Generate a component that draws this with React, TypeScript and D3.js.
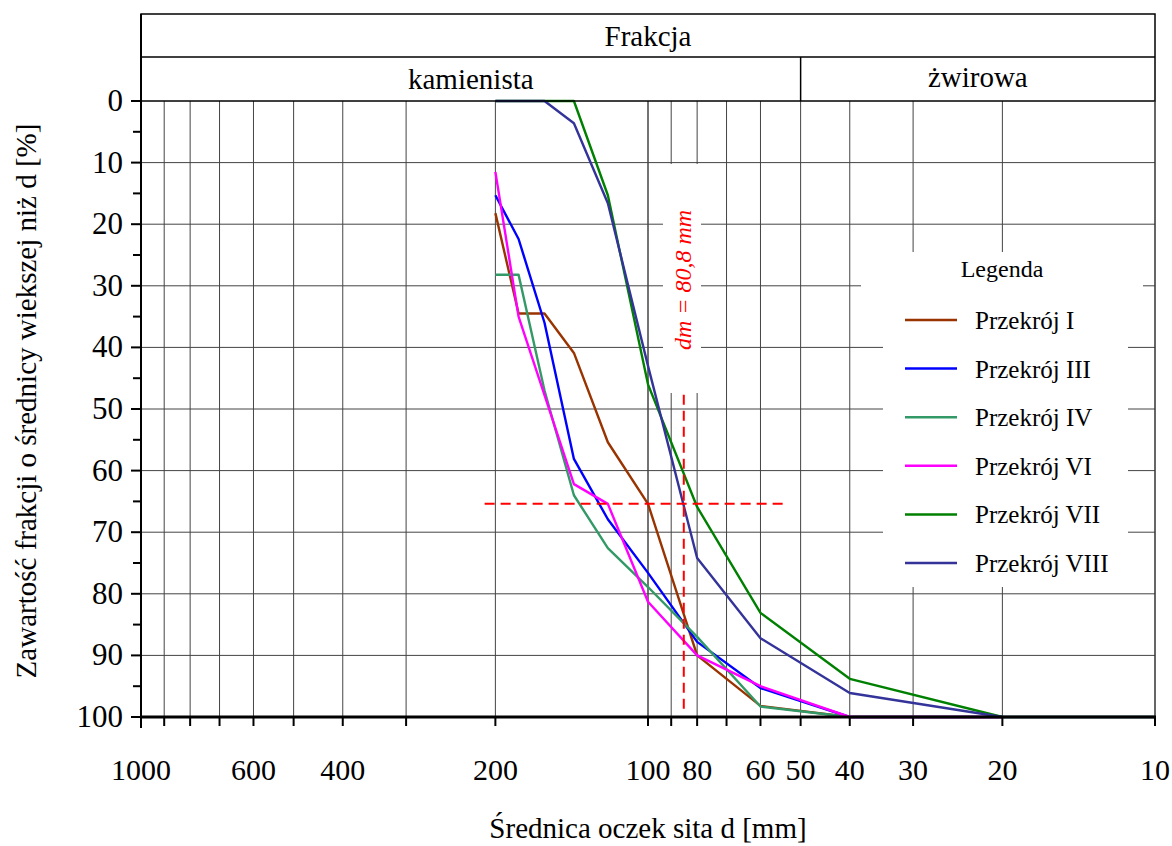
import React from "react";
import * as d3 from "d3";

// ---- data ----
const seriesNames = ["Przekrój I", "Przekrój III", "Przekrój IV", "Przekrój VI", "Przekrój VII", "Przekrój VIII"];
const seriesColors = ["#993300", "#0000ff", "#339966", "#ff00ff", "#008000", "#333399"];

const sieveI = [200, 180, 160, 140, 120, 100, 80, 60, 40, 20];
const valuesI = [18.2, 34.5, 34.5, 40.9, 55.4, 65.4, 90, 98.2, 100, 100];

const sieveIII = [200, 180, 160, 140, 120, 100, 80, 60, 40, 20];
const valuesIII = [15.3, 22.4, 36, 58.1, 67.9, 76.6, 87.8, 95.3, 100, 100];

const sieveIV = [200, 180, 160, 140, 120, 100, 80, 60, 40, 20];
const valuesIV = [28.2, 28.2, 47, 64, 72.6, 78.9, 87, 98.3, 100, 100];

const sieveVI = [200, 180, 140, 120, 100, 80, 60, 40, 20];
const valuesVI = [11.5, 35, 62.2, 65.4, 81.3, 90, 95, 100, 100];

const sieveVII = [200, 160, 140, 120, 100, 80, 60, 40, 20, 10];
const valuesVII = [0, 0, 0, 15.3, 46, 65.9, 83.1, 93.8, 100, 100];

const sieveVIII = [200, 160, 140, 120, 100, 80, 60, 40, 20, 10];
const valuesVIII = [0, 0, 3.6, 16.6, 43, 74.2, 87.2, 96.1, 100, 100];

const gridX = [1000, 900, 800, 700, 600, 500, 400, 300, 200, 100, 90, 80, 70, 60, 50, 40, 30, 20, 10];
const labelX = [1000, 600, 400, 200, 100, 80, 60, 50, 40, 30, 20, 10];
const majorY = [0, 10, 20, 30, 40, 50, 60, 70, 80, 90, 100];
const minorY = [5, 15, 25, 35, 45, 55, 65, 75, 85, 95];

const fractionSplit = 50; // boundary kamienista / żwirowa
const dmLabel = "dm = 80,8 mm";
const dmD = 85;          // position of vertical dashed marker
const dmPct = 65.4;      // horizontal dashed marker
const dmHRange = [210, 54];
const dmVRange = [47.7, 98.9];

const allSieves = [sieveI, sieveIII, sieveIV, sieveVI, sieveVII, sieveVIII];
const allValues = [valuesI, valuesIII, valuesIV, valuesVI, valuesVII, valuesVIII];

const W = 1172, H = 846;
const L = 141, R = 1155, T = 101, B = 717;
const headTop = 14, headMid = 57;
const FONT = "Liberation Serif, Times New Roman, serif";

export default function App() {
  const x = d3.scaleLog().domain([1000, 10]).range([L, R]);
  const y = d3.scaleLinear().domain([0, 100]).range([T, B]);
  const line = d3.line<[number, number]>().x(p => x(p[0])).y(p => y(p[1]));

  const legX = 905, legTextX = 975, legY0 = 320, legStep = 48.6;

  return (
    <svg width={W} height={H} style={{ position: "absolute", left: 0, top: 0, background: "#fff", fontFamily: FONT }}>
      <rect x={0} y={0} width={W} height={H} fill="#fff" />
      {/* grid */}
      {majorY.filter(v => v > 0 && v < 100).map(v => (
        <line key={"gy" + v} x1={L} x2={R} y1={y(v)} y2={y(v)} stroke="#444" strokeWidth={1} />
      ))}
      {gridX.filter(v => v !== 1000 && v !== 10).map(v => (
        <line key={"gx" + v} x1={x(v)} x2={x(v)} y1={T} y2={B} stroke="#444" strokeWidth={v === 100 ? 1.5 : 1} />
      ))}
      {/* white boxes covering grid */}
      <rect x={663} y={164} width={38} height={229} fill="#fff" />
      <rect x={861} y={252} width={282} height={50} fill="#fff" />
      <rect x={883} y={300} width={245} height={287} fill="#fff" />

      {/* series */}
      {allSieves.map((s, i) => (
        <path key={"s" + i} d={line(s.map((d, j) => [d, allValues[i][j]]) as [number, number][]) || ""}
          fill="none" stroke={seriesColors[i]} strokeWidth={2.4} strokeLinejoin="round" />
      ))}

      {/* dm markers */}
      <line x1={x(dmHRange[0])} x2={x(dmHRange[1])} y1={y(dmPct)} y2={y(dmPct)} stroke="#ff0000" strokeWidth={2} strokeDasharray="10,6" />
      <line x1={x(dmD)} x2={x(dmD)} y1={y(dmVRange[0])} y2={y(dmVRange[1])} stroke="#ff0000" strokeWidth={2} strokeDasharray="10,6" />
      <text transform={`translate(${x(dmD) + 7},280) rotate(-90)`} textAnchor="middle" fill="#ff0000" fontStyle="italic" fontSize={24}>{dmLabel}</text>

      {/* header */}
      <rect x={L} y={headTop} width={R - L} height={T - headTop} fill="none" stroke="#000" strokeWidth={1.5} />
      <line x1={L} x2={R} y1={headMid} y2={headMid} stroke="#000" strokeWidth={1.5} />
      <line x1={x(fractionSplit)} x2={x(fractionSplit)} y1={headMid} y2={T} stroke="#000" strokeWidth={1.5} />
      <text x={(L + R) / 2} y={46} textAnchor="middle" fontSize={29}>Frakcja</text>
      <text x={(L + x(fractionSplit)) / 2} y={89} textAnchor="middle" fontSize={29}>kamienista</text>
      <text x={(R + x(fractionSplit)) / 2} y={87} textAnchor="middle" fontSize={29}>żwirowa</text>

      {/* axes */}
      <line x1={L} x2={L} y1={headTop} y2={B} stroke="#000" strokeWidth={2} />
      <line x1={R} x2={R} y1={T} y2={B} stroke="#333" strokeWidth={1.5} />
      <line x1={L - 1} x2={R + 1} y1={B} y2={B} stroke="#000" strokeWidth={3} />
      {majorY.map(v => (
        <g key={"ty" + v}>
          <line x1={L - 10} x2={L} y1={y(v)} y2={y(v)} stroke="#000" strokeWidth={2} />
          <text x={123} y={y(v) + 10} textAnchor="end" fontSize={31}>{v}</text>
        </g>
      ))}
      {minorY.map(v => (
        <line key={"my" + v} x1={L - 8} x2={L} y1={y(v)} y2={y(v)} stroke="#000" strokeWidth={2} />
      ))}
      {gridX.map(v => (
        <line key={"tx" + v} x1={x(v)} x2={x(v)} y1={B} y2={v === 1000 ? B + 11 : B + 9} stroke="#000" strokeWidth={2} />
      ))}
      {labelX.map(v => (
        <text key={"lx" + v} x={x(v)} y={780} textAnchor="middle" fontSize={30}>{v}</text>
      ))}

      {/* titles */}
      <text x={(L + R) / 2} y={838} textAnchor="middle" fontSize={29}>Średnica oczek sita d [mm]</text>
      <text transform={`translate(36,${(T + B) / 2 - 8}) rotate(-90)`} textAnchor="middle" fontSize={29}>Zawartość frakcji o średnicy wiekszej niż d [%]</text>

      {/* legend */}
      <text x={1002} y={277} textAnchor="middle" fontSize={24}>Legenda</text>
      {seriesNames.map((n, i) => (
        <g key={"lg" + i}>
          <line x1={legX} x2={legX + 52} y1={legY0 + i * legStep} y2={legY0 + i * legStep} stroke={seriesColors[i]} strokeWidth={2.5} />
          <text x={legTextX} y={legY0 + i * legStep + 9} fontSize={25}>{n}</text>
        </g>
      ))}
    </svg>
  );
}
